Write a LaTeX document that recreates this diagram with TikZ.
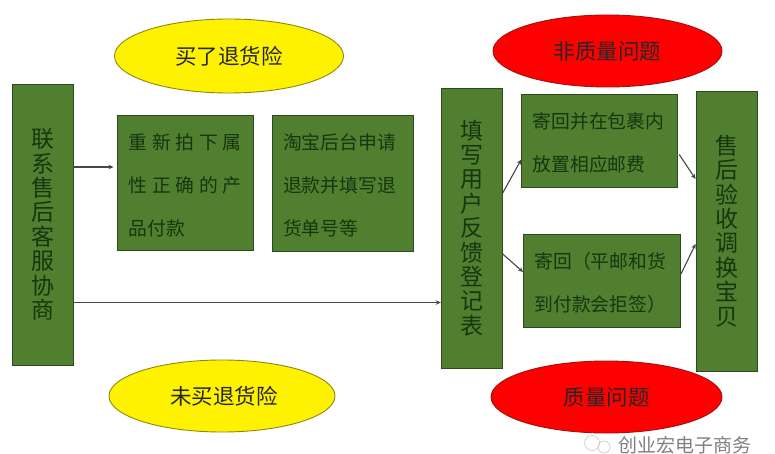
\documentclass[tikz,border=0pt]{standalone}
\usepackage{fontspec}
\setmainfont{Noto Sans CJK SC}
\usetikzlibrary{shapes.geometric,arrows.meta}
\definecolor{boxgreen}{HTML}{50802F}
\definecolor{boxedge}{HTML}{2C4A20}
\definecolor{inkdark}{HTML}{17350F}
\definecolor{wire}{HTML}{45474A}
\definecolor{yellowedge}{HTML}{8A8A10}
\definecolor{rededge}{HTML}{A01010}
\newcommand{\spreadline}[2]{\makebox[#1][s]{#2}}
\tikzset{
  greenbox/.style={draw=boxedge,line width=0.9pt,fill=boxgreen,text=inkdark,inner sep=0pt},
  tallbox/.style={greenbox,minimum width=61pt,align=center,font=\fontsize{23}{24.4}\selectfont},
  textbox/.style={greenbox,align=left,font=\fontsize{18.8}{42.8}\selectfont,execute at begin node={\rule{0pt}{21pt}}},
  yellowoval/.style={ellipse,draw=yellowedge,line width=0.9pt,fill=yellow,text=black!85,inner sep=0pt,font=\fontsize{21.5}{24}\selectfont},
  redoval/.style={ellipse,draw=rededge,line width=0.9pt,fill=red,text=black!85,inner sep=0pt,font=\fontsize{21.5}{24}\selectfont},
  flow/.style={draw=wire,line width=1.1pt,-{Stealth[length=5pt,width=4.5pt]}},
}
\begin{document}
\begin{tikzpicture}[x=1pt,y=-1pt]
\useasboundingbox (0,0) rectangle (775,454);
\fill[white] (0,0) rectangle (775,454);

\node[yellowoval,minimum width=229pt,minimum height=74pt] (buy) at (229,56) {买了退货险};
\node[yellowoval,minimum width=226pt,minimum height=72pt] (nobuy) at (222,396) {\hspace*{4pt}未买退货险};
\node[redoval,minimum width=229pt,minimum height=72pt] (nonq) at (607.5,51) {非质量问题};
\node[redoval,minimum width=231pt,minimum height=72pt] (qual) at (606.5,397) {质量问题};

\node[tallbox,minimum height=281pt] (contact) at (42.5,224.5) {联\\系\\售\\后\\客\\服\\协\\商};
\node[tallbox,minimum height=280pt] (form) at (471.75,228) {填\\写\\用\\户\\反\\馈\\登\\记\\表};
\node[tallbox,minimum height=280pt] (check) at (726.5,231) {售\\后\\验\\收\\调\\换\\宝\\贝};

\node[textbox,minimum width=136pt,minimum height=135pt,text width=113pt] (rebuy) at (185,182.5)
  {\spreadline{113pt}{重\hfill 新\hfill 拍\hfill 下\hfill 属}\\\spreadline{113pt}{性\hfill 正\hfill 确\hfill 的\hfill 产}\\品付款};
\node[textbox,minimum width=141pt,minimum height=136pt,text width=119pt] (refund) at (342.5,183)
  {淘宝后台申请\\退款并填写退\\货单号等};
\node[textbox,minimum width=156pt,minimum height=93pt,text width=134pt] (mailfee) at (599.75,140.5)
  {寄回并在包裹内\\放置相应邮费};
\node[textbox,minimum width=157pt,minimum height=93pt,text width=135pt] (mailback) at (602,280.5)
  {寄回（平邮和货\\到付款会拒签）};

\draw[flow] ([yshift=57.5pt]contact.east) -- ([xshift=-3pt,yshift=15.5pt]rebuy.west);
\draw[flow] ([yshift=-78pt]contact.east) -- ([yshift=-74.5pt]form.west);
\draw[flow] ([yshift=35pt]form.east) -- ([yshift=-19pt]mailfee.west);
\draw[flow] ([yshift=-26pt]form.east) -- ([yshift=8.5pt]mailback.west);
\draw[flow] ([xshift=1pt,yshift=-14pt]mailfee.east) -- ([yshift=52pt]check.west);
\draw[flow] ([yshift=6.5pt]mailback.east) -- ([yshift=-13pt]check.west);

\node[text=black!50,font=\fontsize{19}{22}\selectfont,inner sep=0pt] (mark) at (685,445) {创业宏电子商务};
\node[circle,draw=black!20,line width=0.7pt,minimum size=15pt,inner sep=0pt] (bubblea) at (592,443) {};
\node[circle,draw=black!20,line width=0.7pt,minimum size=12pt,inner sep=0pt] (bubbleb) at (604,447) {};
\end{tikzpicture}
\end{document}
